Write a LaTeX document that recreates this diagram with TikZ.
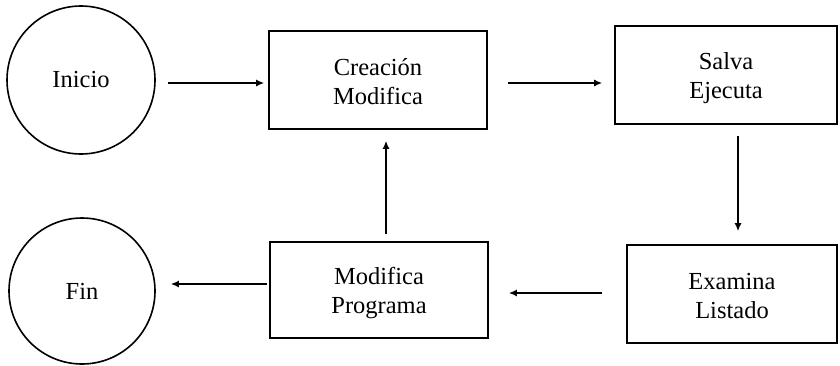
\documentclass[tikz,border=0pt]{standalone}
\usepackage{fontspec}
\setmainfont{Liberation Serif}
\usetikzlibrary{arrows.meta}
\newcommand\lnstrut{\rule[-5pt]{0pt}{29pt}}
\begin{document}
\begin{tikzpicture}[x=1pt,y=-1pt,
  every node/.style={font=\fontsize{24.5}{29}\selectfont, align=center, inner sep=0pt},
  term/.style={draw, circle, line width=1.6pt},
  proc/.style={draw, rectangle, line width=1.6pt},
  arr/.style={line width=1.8pt, -{Latex[length=8pt,width=7pt]}}]
\useasboundingbox (0,0) rectangle (840,365);
\node[term, minimum size=148pt] (inicio) at (81,80) {Inicio};
\node[term, minimum size=146pt] (fin) at (82,291) {Fin};
\node[proc, minimum width=218pt, minimum height=98pt] (crea) at (378,80) {\lnstrut Creación\\\lnstrut Modifica};
\node[proc, minimum width=222pt, minimum height=98pt] (salva) at (726,75) {\lnstrut Salva\\\lnstrut Ejecuta};
\node[proc, minimum width=210pt, minimum height=98pt] (exam) at (732,294) {\lnstrut Examina\\\lnstrut Listado};
\node[proc, minimum width=218pt, minimum height=96pt] (modp) at (379,290) {\lnstrut Modifica\\\lnstrut Programa};
\draw[arr, shorten <=12pt, shorten >=4pt] ([yshift=-3pt]inicio.east) -- ([yshift=-3pt]inicio.east -| crea.west);
\draw[arr, shorten <=20pt, shorten >=12pt] ([yshift=-3pt]crea.east) -- ([yshift=-3pt]crea.east -| salva.west);
\draw[arr, shorten <=11pt, shorten >=13pt] ([xshift=12pt]salva.south) -- ([xshift=12pt]salva.south |- exam.north);
\draw[arr, shorten <=24pt, shorten >=20pt] ([yshift=1pt]exam.west) -- ([yshift=1pt]exam.west -| modp.east);
\draw[arr, shorten <=7pt, shorten >=11pt] ([xshift=7pt]modp.north) -- ([xshift=7pt]modp.north |- crea.south);
\draw[arr, shorten <=2pt, shorten >=15pt] ([yshift=6pt]modp.west) -- ([yshift=6pt]modp.west -| fin.east);
\end{tikzpicture}
\end{document}
